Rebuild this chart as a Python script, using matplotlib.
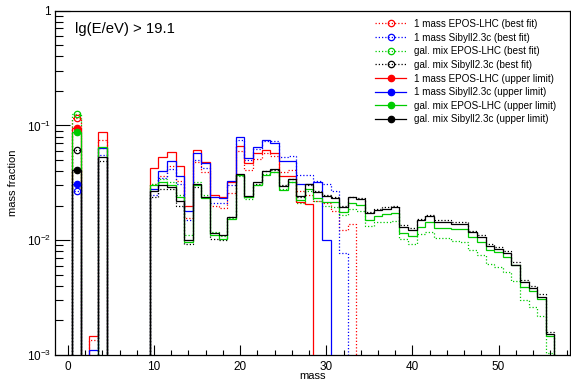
import numpy as np
import matplotlib
matplotlib.use("Agg")
import matplotlib.pyplot as plt
from matplotlib.lines import Line2D
from matplotlib.ticker import FixedLocator, FixedFormatter, MultipleLocator, NullFormatter

plt.rcParams['font.family'] = ['Liberation Sans', 'DejaVu Sans']
plt.rcParams['mathtext.default'] = 'regular'

# mass number of each bin (1..56)
mass = np.arange(1, 57)

# 1 mass EPOS-LHC
epos_1m_best = [0.116, 0, 0.00135, 0.075, 0, 0, 0, 0, 0, 0.031,
                0.036, 0.044, 0.033, 0.0155, 0.048, 0.039, 0.020, 0.019, 0.026, 0.060,
                0.041, 0.051, 0.057, 0.054, 0.039, 0.041, 0.027, 0.025, 0.022, 0.021,
                0.018, 0.0123, 0.0138, 0, 0, 0, 0, 0, 0, 0,
                0, 0, 0, 0, 0, 0, 0, 0, 0, 0,
                0, 0, 0, 0, 0, 0]
epos_1m_upper = [0.0946, 0, 0.00147, 0.087, 0, 0, 0, 0, 0, 0.043,
                 0.053, 0.059, 0.044, 0.020, 0.061, 0.048, 0.025, 0.024, 0.032, 0.066,
                 0.047, 0.057, 0.061, 0.058, 0.036, 0.036, 0.0215, 0.0205, 0, 0,
                 0, 0, 0, 0, 0, 0, 0, 0, 0, 0,
                 0, 0, 0, 0, 0, 0, 0, 0, 0, 0,
                 0, 0, 0, 0, 0, 0]

# 1 mass Sibyll2.3c
sib_1m_best = [0.0269, 0, 0, 0.0553, 0, 0, 0, 0, 0, 0.025,
               0.035, 0.042, 0.031, 0.015, 0.050, 0.043, 0.021, 0.021, 0.030, 0.075,
               0.050, 0.062, 0.073, 0.073, 0.053, 0.054, 0.037, 0.037, 0.033, 0.031,
               0.027, 0.0078, 0, 0, 0, 0, 0, 0, 0, 0,
               0, 0, 0, 0, 0, 0, 0, 0, 0, 0,
               0, 0, 0, 0, 0, 0]
sib_1m_upper = [0.0309, 0, 0.0011, 0.0633, 0, 0, 0, 0, 0, 0.028,
                0.040, 0.049, 0.036, 0.018, 0.057, 0.047, 0.024, 0.0234, 0.033, 0.080,
                0.052, 0.065, 0.075, 0.071, 0.049, 0.049, 0.031, 0.031, 0.032, 0.0101,
                0, 0, 0, 0, 0, 0, 0, 0, 0, 0,
                0, 0, 0, 0, 0, 0, 0, 0, 0, 0,
                0, 0, 0, 0, 0, 0]

# galactic mix EPOS-LHC
epos_gal_best = [0.126, 0, 0, 0.064, 0, 0, 0, 0, 0, 0.031,
                 0.034, 0.032, 0.025, 0.011, 0.032, 0.025, 0.0118, 0.0108, 0.0155, 0.036,
                 0.023, 0.030, 0.038, 0.039, 0.028, 0.032, 0.021, 0.027, 0.022, 0.0197,
                 0.0194, 0.0165, 0.0187, 0.018, 0.0133, 0.0145, 0.0145, 0.0147, 0.0102, 0.0093,
                 0.0113, 0.0119, 0.0105, 0.0105, 0.0099, 0.0097, 0.0083, 0.0074, 0.0062, 0.0059,
                 0.0053, 0.0044, 0.0030, 0.0026, 0.0022, 0.00105]
epos_gal_upper = [0.0877, 0, 0, 0.0654, 0, 0, 0, 0, 0, 0.030,
                  0.032, 0.030, 0.024, 0.0096, 0.030, 0.0235, 0.011, 0.0103, 0.0152, 0.037,
                  0.0236, 0.030, 0.037, 0.039, 0.0274, 0.032, 0.0224, 0.028, 0.0233, 0.0215,
                  0.0215, 0.0175, 0.021, 0.0203, 0.015, 0.0164, 0.0169, 0.0172, 0.0115, 0.0108,
                  0.0131, 0.0144, 0.0127, 0.0127, 0.0125, 0.0125, 0.0107, 0.0097, 0.0082, 0.0079,
                  0.0072, 0.0061, 0.0039, 0.0036, 0.0031, 0.00147]

# galactic mix Sibyll2.3c
sib_gal_best = [0.0615, 0, 0, 0.0494, 0, 0, 0, 0, 0, 0.024,
                0.028, 0.028, 0.020, 0.0092, 0.029, 0.024, 0.0102, 0.010, 0.0158, 0.037,
                0.024, 0.031, 0.040, 0.041, 0.030, 0.034, 0.024, 0.030, 0.027, 0.025,
                0.024, 0.0198, 0.024, 0.0233, 0.0176, 0.0189, 0.0194, 0.0199, 0.0135, 0.0127,
                0.0154, 0.0167, 0.0149, 0.0149, 0.0143, 0.0143, 0.0121, 0.0110, 0.0093, 0.0088,
                0.0080, 0.0064, 0.0045, 0.0040, 0.0034, 0.00158]
sib_gal_upper = [0.0407, 0, 0, 0.053, 0, 0, 0, 0, 0, 0.027,
                 0.030, 0.029, 0.022, 0.0101, 0.031, 0.024, 0.0115, 0.011, 0.016, 0.038,
                 0.0243, 0.032, 0.040, 0.042, 0.0294, 0.034, 0.0245, 0.031, 0.0265, 0.0245,
                 0.0235, 0.0194, 0.0236, 0.0228, 0.0172, 0.0184, 0.0189, 0.0194, 0.0131, 0.0123,
                 0.015, 0.0163, 0.0145, 0.0145, 0.0139, 0.0139, 0.0117, 0.0106, 0.0089, 0.0084,
                 0.0077, 0.0061, 0.0043, 0.0038, 0.0032, 0.00153]

labels = ["1 mass EPOS-LHC (best fit)", "1 mass Sibyll2.3c (best fit)",
          "gal. mix EPOS-LHC (best fit)", "gal. mix Sibyll2.3c (best fit)",
          "1 mass EPOS-LHC (upper limit)", "1 mass Sibyll2.3c (upper limit)",
          "gal. mix EPOS-LHC (upper limit)", "gal. mix Sibyll2.3c (upper limit)"]
series = [epos_1m_best, sib_1m_best, epos_gal_best, sib_gal_best,
          epos_1m_upper, sib_1m_upper, epos_gal_upper, sib_gal_upper]
colors = ["#ff0000", "#0000ff", "#00cc00", "#000000"] * 2
dotted = (0, (1, 1.6))

fig = plt.figure(figsize=(5.71, 3.83), dpi=100)
ax = fig.add_axes([55 / 571, 28 / 383, 515 / 571, 344.3 / 383])

edges = np.append(mass - 0.5, mass[-1] + 0.5)
floor = 1e-6
handles = []
for i, (vals, lab, col) in enumerate(zip(series, labels, colors)):
    best = i < 4
    v = np.array(vals, dtype=float)
    v = np.where(v > 0, v, floor)
    ls = dotted if best else "-"
    ax.stairs(v, edges, baseline=floor, color=col, ls=ls, lw=0.9, zorder=2 if best else 3)
    ax.plot(mass[0], vals[0], "o", ms=4.6, mew=0.9, mec=col,
            mfc="none" if best else col, zorder=4)
    handles.append(Line2D([], [], color=col, ls=ls, lw=0.9, marker="o", ms=4.6, mew=0.9,
                          mec=col, mfc="none" if best else col))

ax.set_yscale("log")
ax.set_ylim(1e-3, 1)
ax.set_xlim(-1.5, 58.3)

ax.yaxis.set_major_locator(FixedLocator([1e-3, 1e-2, 1e-1, 1]))
ax.yaxis.set_major_formatter(FixedFormatter(["$10^{-3}$", "$10^{-2}$", "$10^{-1}$", "1"]))
minor = [m * 10.0 ** e for e in (-3, -2, -1) for m in range(2, 10)]
ax.yaxis.set_minor_locator(FixedLocator(minor))
ax.yaxis.set_minor_formatter(NullFormatter())
ax.xaxis.set_major_locator(MultipleLocator(10))
ax.xaxis.set_minor_locator(MultipleLocator(2))

ax.tick_params(which="both", direction="in", top=False, right=False, labelsize=8.5, width=0.8)
ax.tick_params(axis="x", which="major", length=7.2, pad=4)
ax.tick_params(axis="x", which="minor", length=3.6)
ax.tick_params(axis="y", which="major", length=10.8, pad=3)
ax.tick_params(axis="y", which="minor", length=5.5)
for s in ax.spines.values():
    s.set_linewidth(0.9)

ax.set_xlabel("mass", fontsize=8)
ax.set_ylabel("mass fraction", fontsize=8)
ax.xaxis.set_label_coords(0.5, -0.046)
ax.yaxis.set_label_coords(-0.072, 0.5)

fig.text(75 / 571, 1 - 29 / 383, "lg(E/eV) > 19.1", fontsize=10.7, va="center", ha="left")

fig.legend(handles, labels, loc="upper left", bbox_to_anchor=(370 / 571, 1 - 14 / 383),
           frameon=False, borderpad=0, fontsize=7.1, handlelength=3.2,
           handletextpad=0.8, labelspacing=0.37)

fig.savefig("out.png", dpi=100)
